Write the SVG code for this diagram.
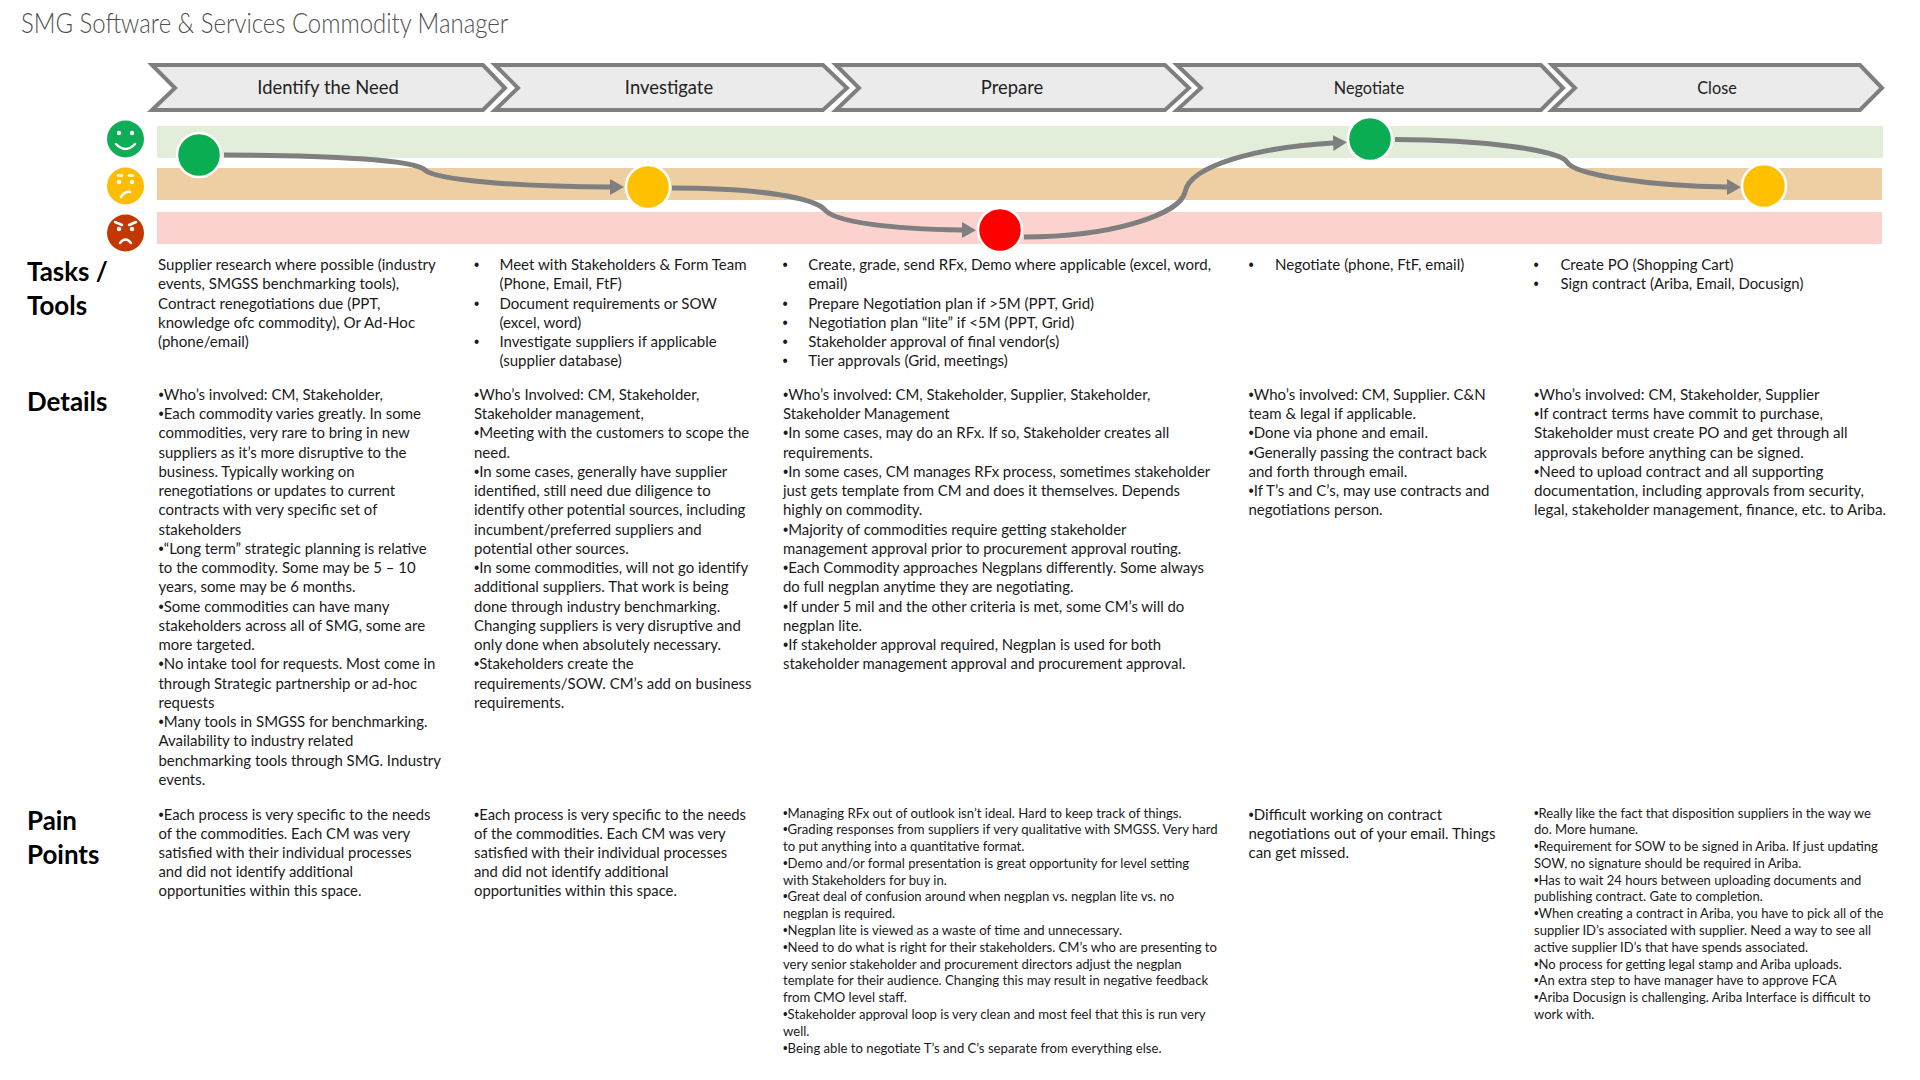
<svg xmlns="http://www.w3.org/2000/svg" width="1920" height="1080" viewBox="0 0 1920 1080">
<style>
text{font-family:"Lato","Liberation Sans",sans-serif;fill:#1a1a1a}
.t{font-size:15.8px}
.s{font-size:13.9px}
.u{font-family:"Liberation Sans",sans-serif}
.h{font-size:27px;font-weight:700;fill:#000}
.title{font-size:27.5px;font-weight:300;fill:#505050}
.l{font-size:19px;text-anchor:middle;fill:#222}
.l2{font-size:17.5px;text-anchor:middle;fill:#222}
.chev{fill:#ebebeb;stroke:#7f7f7f;stroke-width:4;stroke-linejoin:miter}
.c{fill:none;stroke:#7f7f7f;stroke-width:5}
.dot{stroke:#fff;stroke-width:2.5}
.eye{fill:#fff}
.m{fill:none;stroke:#fff;stroke-width:2.5;stroke-linecap:round}
</style>
<defs><marker id="a" markerUnits="userSpaceOnUse" markerWidth="16" markerHeight="18" refX="0" refY="8" orient="auto"><path d="M0 0L14 8L0 16Z" fill="#7f7f7f"/></marker></defs>
<text class="title" transform="translate(21 33) scale(.87 1)">SMG Software &amp; Services Commodity Manager</text>
<g id="stage-identify"><path class="chev" d="M152 65H483L505 88L483 110H152L175 88Z"/><text class="l" transform="translate(328 94) scale(.97 1)">Identify the Need</text></g>
<g id="stage-investigate"><path class="chev" d="M495 65H823L847 88L823 110H495L518 88Z"/><text class="l" transform="translate(669 94) scale(.97 1)">Investigate</text></g>
<g id="stage-prepare"><path class="chev" d="M836 65H1165L1189 88L1165 110H836L859 88Z"/><text class="l" transform="translate(1012 94) scale(.97 1)">Prepare</text></g>
<g id="stage-negotiate"><path class="chev" d="M1177 65H1541L1563 88L1541 110H1177L1201 88Z"/><text class="l2" transform="translate(1369 93.500) scale(.93 1)">Negotiate</text></g>
<g id="stage-close"><path class="chev" d="M1552 65H1860L1882 88L1860 110H1552L1575 88Z"/><text class="l2" transform="translate(1717 93.500) scale(.93 1)">Close</text></g>
<g id="bands"><rect x="157" y="126" width="1726" height="32" fill="#e3eeda"/><rect x="157" y="168" width="1725" height="32" fill="#eecfa3"/><rect x="157" y="212" width="1725" height="32" fill="#fbd2cd"/></g>
<g id="face-happy"><circle cx="125.5" cy="139" r="18.5" fill="#0fad57"/><circle class="eye" cx="119" cy="133" r="2.2"/><circle class="eye" cx="132" cy="133" r="2.2"/><path class="m" d="M116 144Q125.5 154 135 144"/></g>
<g id="face-neutral"><circle cx="125.5" cy="186" r="18.5" fill="#fdbc05"/><circle class="eye" cx="119" cy="182" r="2.2"/><circle class="eye" cx="132" cy="182" r="2.2"/><path class="m" d="M118 175.500H122M129 175.500H133M121 197Q125 191 130 192"/></g>
<g id="face-sad"><circle cx="125.500" cy="233" r="18.500" fill="#c33800"/><circle class="eye" cx="119" cy="229" r="2.200"/><circle class="eye" cx="132" cy="229" r="2.200"/><path class="m" d="M115 222L122 225M136 222L129 225M120 243Q125.500 236 131 243"/></g>
<g id="connectors">
<path class="c" marker-end="url(#a)" d="M224 155C330 155 415 160 425 170C435 180 520 187 610 187"/>
<path class="c" marker-end="url(#a)" d="M672 188C760 188 815 198 825 210C835 222 890 229 962 230"/>
<path class="c" marker-end="url(#a)" d="M1024 237C1110 237 1180 215 1185 192C1190 165 1260 147 1333 143"/>
<path class="c" marker-end="url(#a)" d="M1395 139.500C1480 139.500 1560 150 1567 162C1574 175 1650 186 1727 187"/>
</g>
<g id="marker-1"><circle class="dot" cx="199" cy="155" r="22" fill="#0bad53"/></g>
<g id="marker-2"><circle class="dot" cx="648" cy="187" r="22" fill="#ffc000"/></g>
<g id="marker-3"><circle class="dot" cx="1000" cy="230" r="22" fill="#fe0000"/></g>
<g id="marker-4"><circle class="dot" cx="1370" cy="139" r="22" fill="#0bad53"/></g>
<g id="marker-5"><circle class="dot" cx="1764" cy="186" r="22" fill="#ffc000"/></g>
<g id="headings">
<text class="h" transform="translate(27 0) scale(.96 1)"><tspan x="0" y="281.500">Tasks /</tspan><tspan x="0" y="315.500">Tools</tspan></text>
<text class="h" transform="translate(27 0) scale(.96 1)" y="411.500">Details</text>
<text class="h" transform="translate(27 0) scale(.96 1)"><tspan x="0" y="830">Pain</tspan><tspan x="0" y="864">Points</tspan></text>
</g>
<g id="tasks">
<text class="t" transform="translate(158 270) scale(.955 1)"><tspan x="0">Supplier research where possible (industry</tspan><tspan x="0" dy="19.300">events, SMGSS benchmarking tools),</tspan><tspan x="0" dy="19.300">Contract renegotiations due (PPT,</tspan><tspan x="0" dy="19.300">knowledge ofc commodity), Or Ad-Hoc</tspan><tspan x="0" dy="19.300">(phone/email)</tspan></text>
<g transform="translate(474 270) scale(.953 1)"><text class="t u"><tspan x="0">•</tspan><tspan x="0" y="38.600">•</tspan><tspan x="0" y="77.200">•</tspan></text><text class="t"><tspan x="26.700">Meet with Stakeholders &amp; Form Team</tspan><tspan x="26.700" dy="19.300">(Phone, Email, FtF)</tspan><tspan x="26.700" dy="19.300">Document requirements or SOW</tspan><tspan x="26.700" dy="19.300">(excel, word)</tspan><tspan x="26.700" dy="19.300">Investigate suppliers if applicable</tspan><tspan x="26.700" dy="19.300">(supplier database)</tspan></text></g>
<g transform="translate(782.500 270) scale(.953 1)"><text class="t u"><tspan x="0">•</tspan><tspan x="0" y="38.600">•</tspan><tspan x="0" y="57.900">•</tspan><tspan x="0" y="77.200">•</tspan><tspan x="0" y="96.500">•</tspan></text><text class="t"><tspan x="27">Create, grade, send RFx, Demo where applicable (excel, word,</tspan><tspan x="27" dy="19.300">email)</tspan><tspan x="27" dy="19.300">Prepare Negotiation plan if &gt;5M (PPT, Grid)</tspan><tspan x="27" dy="19.300">Negotiation plan “lite” if &lt;5M (PPT, Grid)</tspan><tspan x="27" dy="19.300">Stakeholder approval of final vendor(s)</tspan><tspan x="27" dy="19.300">Tier approvals (Grid, meetings)</tspan></text></g>
<g transform="translate(1248.500 270) scale(.955 1)"><text class="t u" x="0">•</text><text class="t" x="27.700">Negotiate (phone, FtF, email)</text></g>
<g transform="translate(1533.500 270) scale(.945 1)"><text class="t u"><tspan x="0">•</tspan><tspan x="0" y="19.300">•</tspan></text><text class="t"><tspan x="28.500">Create PO (Shopping Cart)</tspan><tspan x="28.500" dy="19.300">Sign contract (Ariba, Email, Docusign)</tspan></text></g>
</g>
<g id="details">
<text class="t" transform="translate(158.500 400) scale(.947 1)"><tspan x="0"><tspan class="u">•</tspan>Who’s involved: CM, Stakeholder,</tspan><tspan x="0" dy="19.250"><tspan class="u">•</tspan>Each commodity varies greatly. In some</tspan><tspan x="0" dy="19.250">commodities, very rare to bring in new</tspan><tspan x="0" dy="19.250">suppliers as it’s more disruptive to the</tspan><tspan x="0" dy="19.250">business. Typically working on</tspan><tspan x="0" dy="19.250">renegotiations or updates to current</tspan><tspan x="0" dy="19.250">contracts with very specific set of</tspan><tspan x="0" dy="19.250">stakeholders</tspan><tspan x="0" dy="19.250"><tspan class="u">•</tspan>“Long term” strategic planning is relative</tspan><tspan x="0" dy="19.250">to the commodity. Some may be 5 – 10</tspan><tspan x="0" dy="19.250">years, some may be 6 months.</tspan><tspan x="0" dy="19.250"><tspan class="u">•</tspan>Some commodities can have many</tspan><tspan x="0" dy="19.250">stakeholders across all of SMG, some are</tspan><tspan x="0" dy="19.250">more targeted.</tspan><tspan x="0" dy="19.250"><tspan class="u">•</tspan>No intake tool for requests. Most come in</tspan><tspan x="0" dy="19.250">through Strategic partnership or ad-hoc</tspan><tspan x="0" dy="19.250">requests</tspan><tspan x="0" dy="19.250"><tspan class="u">•</tspan>Many tools in SMGSS for benchmarking.</tspan><tspan x="0" dy="19.250">Availability to industry related</tspan><tspan x="0" dy="19.250">benchmarking tools through SMG. Industry</tspan><tspan x="0" dy="19.250">events.</tspan></text>
<text class="t" transform="translate(474 400) scale(.949 1)"><tspan x="0"><tspan class="u">•</tspan>Who’s Involved: CM, Stakeholder,</tspan><tspan x="0" dy="19.250">Stakeholder management,</tspan><tspan x="0" dy="19.250"><tspan class="u">•</tspan>Meeting with the customers to scope the</tspan><tspan x="0" dy="19.250">need.</tspan><tspan x="0" dy="19.250"><tspan class="u">•</tspan>In some cases, generally have supplier</tspan><tspan x="0" dy="19.250">identified, still need due diligence to</tspan><tspan x="0" dy="19.250">identify other potential sources, including</tspan><tspan x="0" dy="19.250">incumbent/preferred suppliers and</tspan><tspan x="0" dy="19.250">potential other sources.</tspan><tspan x="0" dy="19.250"><tspan class="u">•</tspan>In some commodities, will not go identify</tspan><tspan x="0" dy="19.250">additional suppliers. That work is being</tspan><tspan x="0" dy="19.250">done through industry benchmarking.</tspan><tspan x="0" dy="19.250">Changing suppliers is very disruptive and</tspan><tspan x="0" dy="19.250">only done when absolutely necessary.</tspan><tspan x="0" dy="19.250"><tspan class="u">•</tspan>Stakeholders create the</tspan><tspan x="0" dy="19.250">requirements/SOW. CM’s add on business</tspan><tspan x="0" dy="19.250">requirements.</tspan></text>
<text class="t" transform="translate(783 400) scale(.943 1)"><tspan x="0"><tspan class="u">•</tspan>Who’s involved: CM, Stakeholder, Supplier, Stakeholder,</tspan><tspan x="0" dy="19.250">Stakeholder Management</tspan><tspan x="0" dy="19.250"><tspan class="u">•</tspan>In some cases, may do an RFx. If so, Stakeholder creates all</tspan><tspan x="0" dy="19.250">requirements.</tspan><tspan x="0" dy="19.250"><tspan class="u">•</tspan>In some cases, CM manages RFx process, sometimes stakeholder</tspan><tspan x="0" dy="19.250">just gets template from CM and does it themselves. Depends</tspan><tspan x="0" dy="19.250">highly on commodity.</tspan><tspan x="0" dy="19.250"><tspan class="u">•</tspan>Majority of commodities require getting stakeholder</tspan><tspan x="0" dy="19.250">management approval prior to procurement approval routing.</tspan><tspan x="0" dy="19.250"><tspan class="u">•</tspan>Each Commodity approaches Negplans differently. Some always</tspan><tspan x="0" dy="19.250">do full negplan anytime they are negotiating.</tspan><tspan x="0" dy="19.250"><tspan class="u">•</tspan>If under 5 mil and the other criteria is met, some CM’s will do</tspan><tspan x="0" dy="19.250">negplan lite.</tspan><tspan x="0" dy="19.250"><tspan class="u">•</tspan>If stakeholder approval required, Negplan is used for both</tspan><tspan x="0" dy="19.250">stakeholder management approval and procurement approval.</tspan></text>
<text class="t" transform="translate(1248.500 400) scale(.95 1)"><tspan x="0"><tspan class="u">•</tspan>Who’s involved: CM, Supplier. C&amp;N</tspan><tspan x="0" dy="19.250">team &amp; legal if applicable.</tspan><tspan x="0" dy="19.250"><tspan class="u">•</tspan>Done via phone and email.</tspan><tspan x="0" dy="19.250"><tspan class="u">•</tspan>Generally passing the contract back</tspan><tspan x="0" dy="19.250">and forth through email.</tspan><tspan x="0" dy="19.250"><tspan class="u">•</tspan>If T’s and C’s, may use contracts and</tspan><tspan x="0" dy="19.250">negotiations person.</tspan></text>
<text class="t" transform="translate(1534 400) scale(.96 1)"><tspan x="0"><tspan class="u">•</tspan>Who’s involved: CM, Stakeholder, Supplier</tspan><tspan x="0" dy="19.250"><tspan class="u">•</tspan>If contract terms have commit to purchase,</tspan><tspan x="0" dy="19.250">Stakeholder must create PO and get through all</tspan><tspan x="0" dy="19.250">approvals before anything can be signed.</tspan><tspan x="0" dy="19.250"><tspan class="u">•</tspan>Need to upload contract and all supporting</tspan><tspan x="0" dy="19.250">documentation, including approvals from security,</tspan><tspan x="0" dy="19.250">legal, stakeholder management, finance, etc. to Ariba.</tspan></text>
</g>
<g id="pain-points">
<text class="t" transform="translate(158.500 819.500) scale(.938 1)"><tspan x="0"><tspan class="u">•</tspan>Each process is very specific to the needs</tspan><tspan x="0" dy="19.250">of the commodities. Each CM was very</tspan><tspan x="0" dy="19.250">satisfied with their individual processes</tspan><tspan x="0" dy="19.250">and did not identify additional</tspan><tspan x="0" dy="19.250">opportunities within this space.</tspan></text>
<text class="t" transform="translate(474 819.500) scale(.938 1)"><tspan x="0"><tspan class="u">•</tspan>Each process is very specific to the needs</tspan><tspan x="0" dy="19.250">of the commodities. Each CM was very</tspan><tspan x="0" dy="19.250">satisfied with their individual processes</tspan><tspan x="0" dy="19.250">and did not identify additional</tspan><tspan x="0" dy="19.250">opportunities within this space.</tspan></text>
<text class="s" transform="translate(783 817.500) scale(.945 1)"><tspan x="0"><tspan class="u">•</tspan>Managing RFx out of outlook isn’t ideal. Hard to keep track of things.</tspan><tspan x="0" dy="16.800"><tspan class="u">•</tspan>Grading responses from suppliers if very qualitative with SMGSS. Very hard</tspan><tspan x="0" dy="16.800">to put anything into a quantitative format.</tspan><tspan x="0" dy="16.800"><tspan class="u">•</tspan>Demo and/or formal presentation is great opportunity for level setting</tspan><tspan x="0" dy="16.800">with Stakeholders for buy in.</tspan><tspan x="0" dy="16.800"><tspan class="u">•</tspan>Great deal of confusion around when negplan vs. negplan lite vs. no</tspan><tspan x="0" dy="16.800">negplan is required.</tspan><tspan x="0" dy="16.800"><tspan class="u">•</tspan>Negplan lite is viewed as a waste of time and unnecessary.</tspan><tspan x="0" dy="16.800"><tspan class="u">•</tspan>Need to do what is right for their stakeholders. CM’s who are presenting to</tspan><tspan x="0" dy="16.800">very senior stakeholder and procurement directors adjust the negplan</tspan><tspan x="0" dy="16.800">template for their audience. Changing this may result in negative feedback</tspan><tspan x="0" dy="16.800">from CMO level staff.</tspan><tspan x="0" dy="16.800"><tspan class="u">•</tspan>Stakeholder approval loop is very clean and most feel that this is run very</tspan><tspan x="0" dy="16.800">well.</tspan><tspan x="0" dy="16.800"><tspan class="u">•</tspan>Being able to negotiate T’s and C’s separate from everything else.</tspan></text>
<text class="t" transform="translate(1248.500 819.500) scale(.95 1)"><tspan x="0"><tspan class="u">•</tspan>Difficult working on contract</tspan><tspan x="0" dy="19.250">negotiations out of your email. Things</tspan><tspan x="0" dy="19.250">can get missed.</tspan></text>
<text class="s" transform="translate(1534 817.500) scale(.94 1)"><tspan x="0"><tspan class="u">•</tspan>Really like the fact that disposition suppliers in the way we</tspan><tspan x="0" dy="16.800">do. More humane.</tspan><tspan x="0" dy="16.800"><tspan class="u">•</tspan>Requirement for SOW to be signed in Ariba. If just updating</tspan><tspan x="0" dy="16.800">SOW, no signature should be required in Ariba.</tspan><tspan x="0" dy="16.800"><tspan class="u">•</tspan>Has to wait 24 hours between uploading documents and</tspan><tspan x="0" dy="16.800">publishing contract. Gate to completion.</tspan><tspan x="0" dy="16.800"><tspan class="u">•</tspan>When creating a contract in Ariba, you have to pick all of the</tspan><tspan x="0" dy="16.800">supplier ID’s associated with supplier. Need a way to see all</tspan><tspan x="0" dy="16.800">active supplier ID’s that have spends associated.</tspan><tspan x="0" dy="16.800"><tspan class="u">•</tspan>No process for getting legal stamp and Ariba uploads.</tspan><tspan x="0" dy="16.800"><tspan class="u">•</tspan>An extra step to have manager have to approve FCA</tspan><tspan x="0" dy="16.800"><tspan class="u">•</tspan>Ariba Docusign is challenging. Ariba Interface is difficult to</tspan><tspan x="0" dy="16.800">work with.</tspan></text>
</g>
</svg>
